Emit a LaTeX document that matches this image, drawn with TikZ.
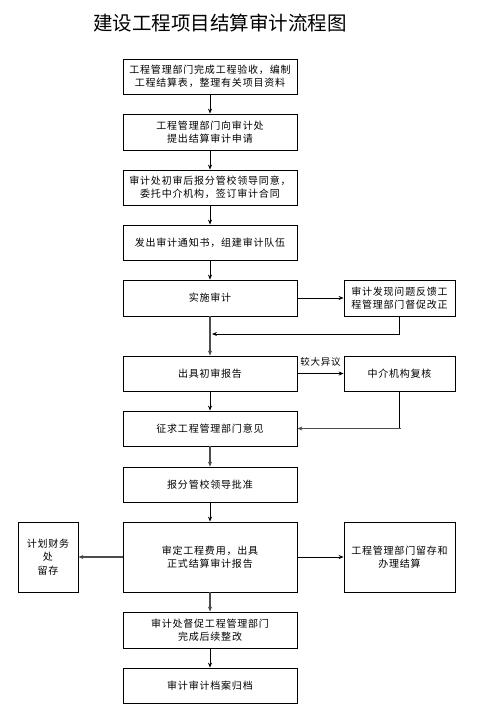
\documentclass[tikz,border=0pt]{standalone}
\usepackage{fontspec}
\usetikzlibrary{arrows.meta}
\setmainfont{Noto Sans CJK SC}
\newfontfamily\cjk[LetterSpace=8]{Noto Sans CJK SC}
\newfontfamily\cjktitle{Noto Sans CJK SC}
\begin{document}
\begin{tikzpicture}[x=1pt,y=-1pt,
  box/.style={draw,line width=0.8pt,inner sep=0pt,align=center,
    font=\cjk\fontsize{10}{13.5}\selectfont},
  mainbox/.style={box,minimum width=174pt,minimum height=35pt},
  sidebox/.style={box,minimum width=111pt,minimum height=36pt},
  arr/.style={line width=0.8pt,-{Stealth[length=5pt,width=4pt]}},
  garr/.style={arr,draw=black!70,line width=1.2pt},
  gline/.style={line width=0.8pt}]
\useasboundingbox (0,0) rectangle (480,714);
\node[font=\cjktitle\fontsize{19.5}{22}\selectfont] (title) at (220,23) {建设工程项目结算审计流程图};

\node[mainbox] (b1) at (210,76.5) {工程管理部门完成工程验收，编制\\工程结算表，整理有关项目资料};
\node[mainbox,minimum height=36pt] (b2) at (210,132) {工程管理部门向审计处\\提出结算审计申请};
\node[mainbox] (b3) at (210,187.5) {审计处初审后报分管校领导同意，\\委托中介机构，签订审计合同};
\node[mainbox] (b4) at (210,242.5) {发出审计通知书，组建审计队伍};
\node[mainbox,minimum height=36pt] (b5) at (210,298) {实施审计};
\node[sidebox] (r5) at (399.5,298) {审计发现问题反馈工\\程管理部门督促改正};
\node[mainbox] (b6) at (210,373.5) {出具初审报告};
\node[sidebox,minimum height=35pt] (r6) at (399.5,373.5) {中介机构复核};
\node[mainbox] (b7) at (210,428.5) {征求工程管理部门意见};
\node[mainbox] (b8) at (210,484.5) {报分管校领导批准};
\node[mainbox,minimum height=70pt] (b9) at (210,557) {审定工程费用，出具\\正式结算审计报告};
\node[box,minimum width=60pt,minimum height=70pt] (l9) at (48,557) {计划财务\\处\\留存};
\node[sidebox,minimum height=70pt] (r9) at (399.5,557) {工程管理部门留存和\\办理结算};
\node[mainbox,minimum height=36pt] (b10) at (210,630) {审计处督促工程管理部门\\完成后续整改};
\node[mainbox] (b11) at (210,685.5) {审计审计档案归档};

\coordinate (fb) at (212,334);

\draw[arr] (b1) -- (b2);
\draw[arr] (b2) -- (b3);
\draw[arr] (b3) -- (b4);
\draw[arr] (b4) -- (b5);
\draw[arr] (b5.east) -- (r5.west);
\draw[arr] (r5.south) |- (fb);
\draw[garr] (b5) -- (b6);
\draw[arr] (b6.east) -- node[above=3pt,font=\cjk\fontsize{9.5}{11}\selectfont] (lbl) {较大异议} (r6.west);
\draw[arr] (b6) -- (b7);
\draw[gline] (r6.south) |- (b7.east);
\draw[garr] ([xshift=1pt]r6.south |- b7.east) -- (b7.east);
\draw[garr] (b7) -- (b8);
\draw[arr] (b8) -- (b9);
\draw[garr] (b9.west) -- (l9.east);
\draw[arr] (b9.east) -- (r9.west);
\draw[garr] (b9) -- (b10);
\draw[arr] (b10) -- (b11);
\end{tikzpicture}
\end{document}
